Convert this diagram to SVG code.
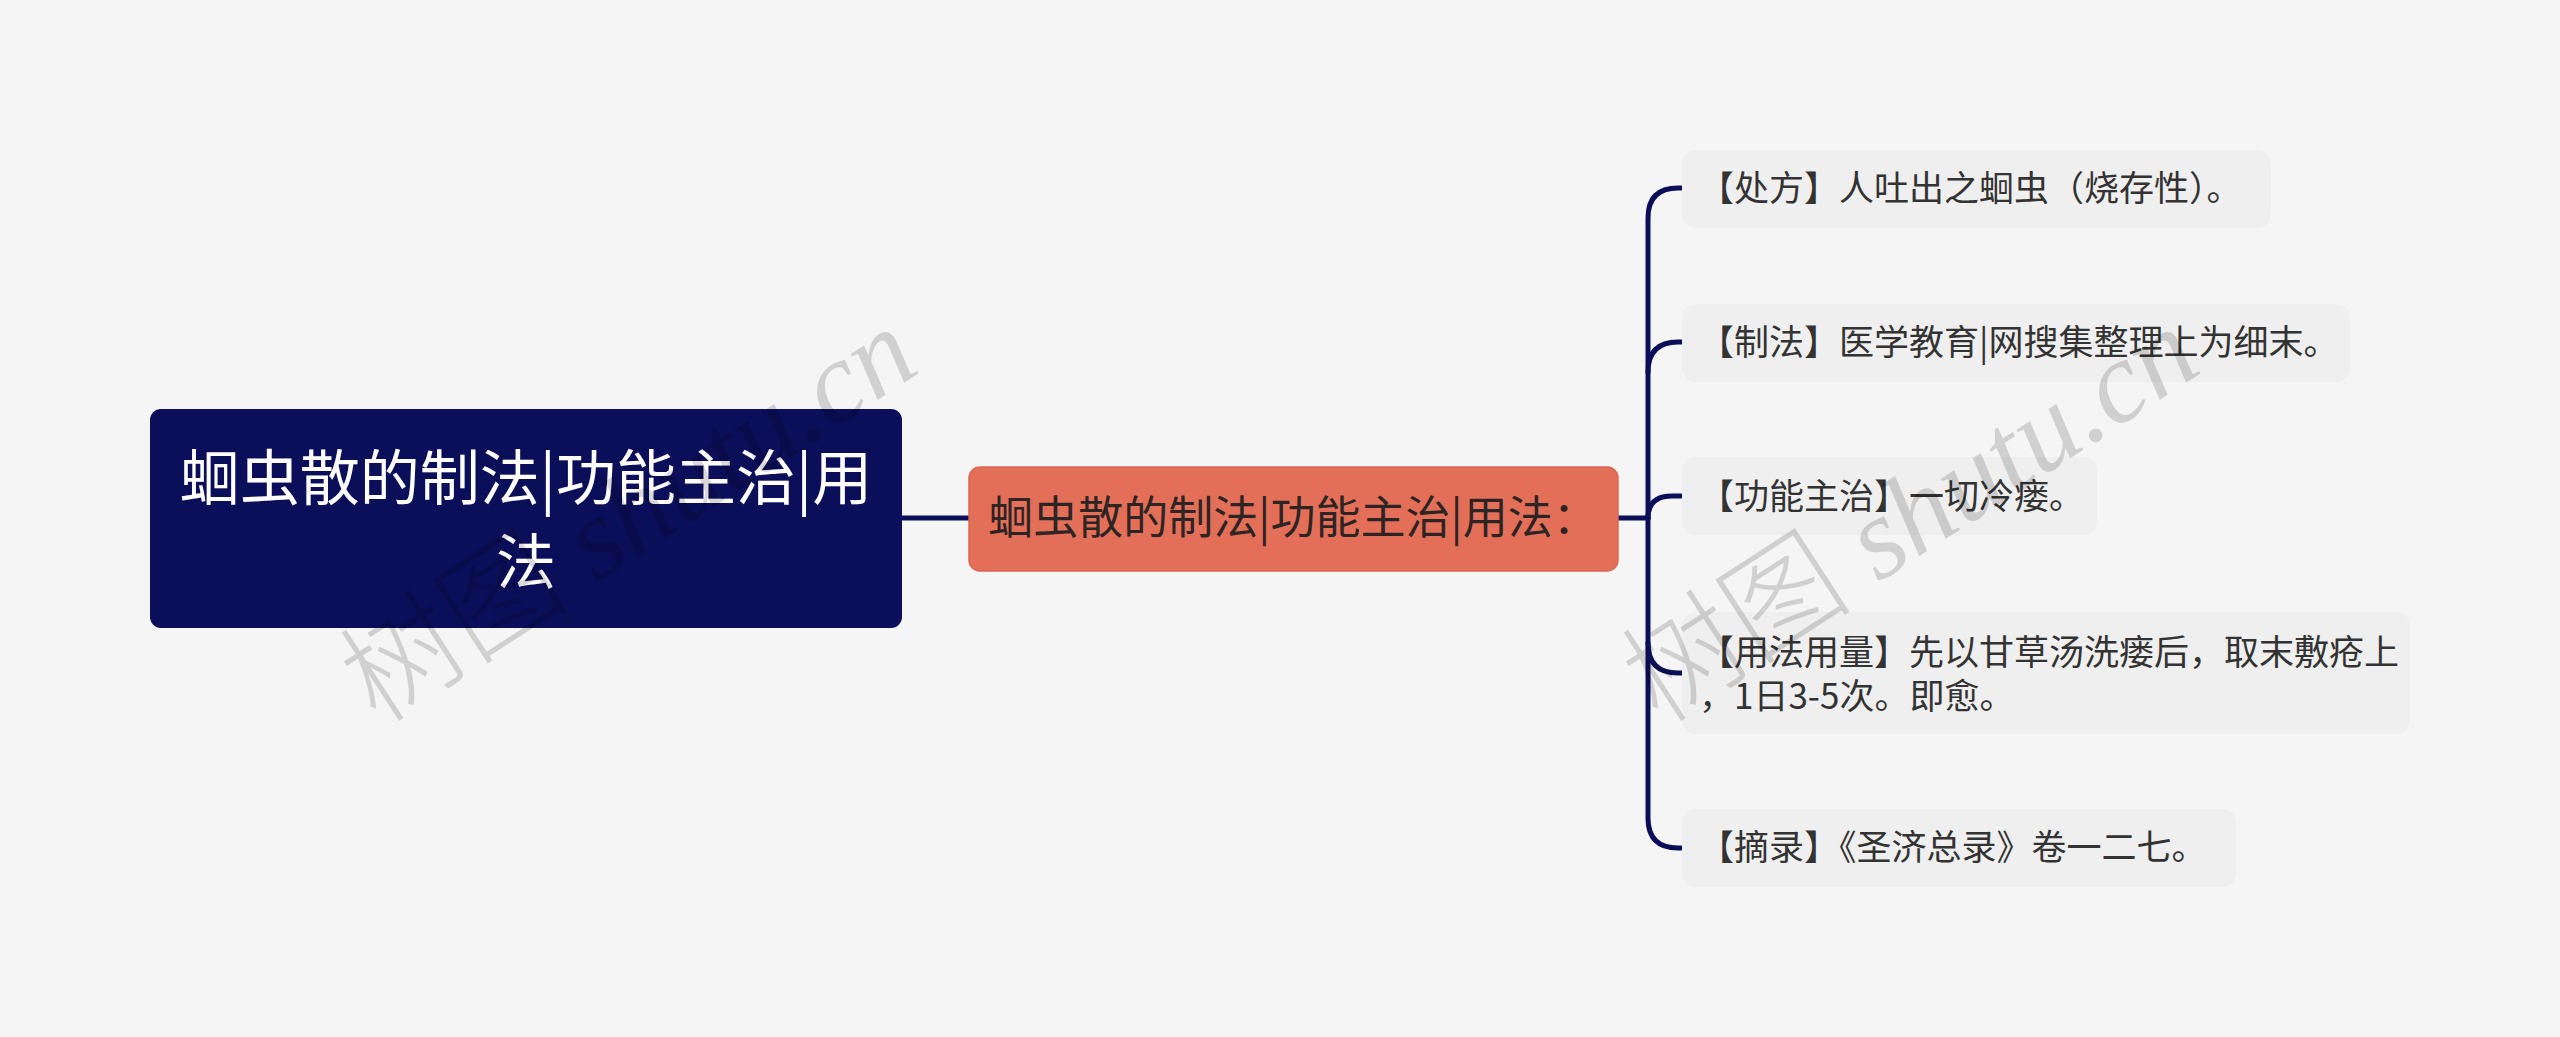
<svg xmlns="http://www.w3.org/2000/svg" width="2560" height="1037" viewBox="0 0 2560 1037">
<style>
.cjk{font-family:"Noto Sans CJK SC","Noto Sans",sans-serif}
.leafbox{fill:#efefef}
.leaftxt{font-size:35px;fill:#333333}
.conn{fill:none;stroke:#0b0f5a;stroke-width:5;stroke-linecap:round}
.wm{font-size:116px;fill:#000000;fill-opacity:0.15}
</style>
<rect x="0" y="0" width="2560" height="1037" fill="#f5f5f5"/>
<g id="connectors">
<path class="conn" d="M902,518 H969"/>
<path class="conn" d="M1618,518 H1648"/>
<path class="conn" d="M1648,518 V218 Q1648,188 1678,188 H1682"/>
<path class="conn" d="M1648,372 Q1648,342 1678,342 H1682"/>
<path class="conn" d="M1648,518 Q1648,496 1672,496 H1682"/>
<path class="conn" d="M1648,518 V643 Q1648,673 1678,673 H1682"/>
<path class="conn" d="M1648,643 V818 Q1648,848 1678,848 H1682"/>
</g>
<g id="root">
<rect x="150" y="409" width="752" height="219" rx="11" fill="#0b0e58"/>
<text class="cjk" x="526" y="500" font-size="60" fill="#ffffff" text-anchor="middle">蛔虫散的制法|功能主治|用</text>
<text class="cjk" x="526" y="584" font-size="60" fill="#ffffff" text-anchor="middle">法</text>
</g>
<g id="main">
<rect x="969" y="467" width="649" height="104" rx="11" fill="#e46f59" stroke="#dc6650" stroke-width="1.5"/>
<text class="cjk" x="1293" y="534" font-size="45" fill="#2e2424" text-anchor="middle">蛔虫散的制法|功能主治|用法：</text>
</g>
<g id="leaf1">
<rect class="leafbox" x="1682" y="150" width="589" height="78" rx="14"/>
<text class="cjk leaftxt" x="1699" y="201">【处方】人吐出之蛔虫（烧存性）。</text>
</g>
<g id="leaf2">
<rect class="leafbox" x="1682" y="304" width="668" height="78" rx="14"/>
<text class="cjk leaftxt" x="1699" y="355">【制法】医学教育|网搜集整理上为细末。</text>
</g>
<g id="leaf3">
<rect class="leafbox" x="1682" y="457" width="415" height="78" rx="14"/>
<text class="cjk leaftxt" x="1699" y="509">【功能主治】一切冷瘘。</text>
</g>
<g id="leaf4">
<rect class="leafbox" x="1682" y="612" width="728" height="122" rx="14"/>
<text class="cjk leaftxt" x="1699" y="665">【用法用量】先以甘草汤洗瘘后，取末敷疮上</text>
<text class="cjk leaftxt" x="1699" y="709">，1日3-5次。即愈。</text>
</g>
<g id="leaf5">
<rect class="leafbox" x="1682" y="809" width="554" height="78" rx="14"/>
<text class="cjk leaftxt" x="1699" y="860">【摘录】《圣济总录》卷一二七。</text>
</g>
<g id="watermarks">
<text class="wm" transform="translate(650,548) rotate(-33)" text-anchor="middle"><tspan font-family="Noto Sans CJK SC,serif" font-weight="300">树图</tspan><tspan font-family="Liberation Serif,serif" font-style="italic"> shutu.cn</tspan></text>
<text class="wm" transform="translate(1932,548) rotate(-33)" text-anchor="middle"><tspan font-family="Noto Sans CJK SC,serif" font-weight="300">树图</tspan><tspan font-family="Liberation Serif,serif" font-style="italic"> shutu.cn</tspan></text>
</g>
</svg>
